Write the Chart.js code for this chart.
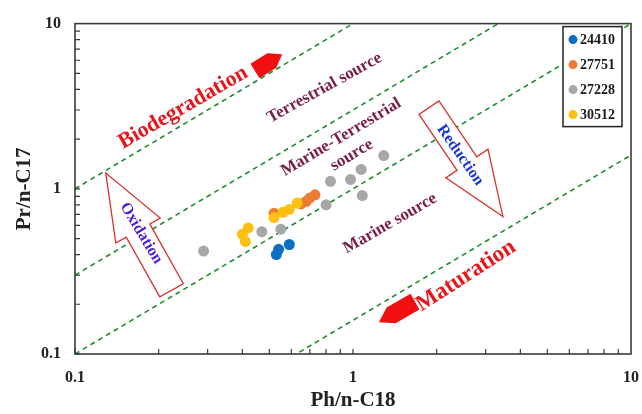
<!DOCTYPE html>
<html>
<head>
<meta charset="utf-8">
<script src="https://cdn.jsdelivr.net/npm/chart.js@4.4.1/dist/chart.umd.min.js"></script>
<style>
  html, body { margin: 0; padding: 0; background: #fff; }
</style>
</head>
<body>
<canvas id="chart" width="642" height="414"></canvas>
<script>
// sample series (Ph/n-C18 vs Pr/n-C17)
const seriesNames = ['24410', '27751', '27228', '30512'];
const seriesColors = ['#0b6fc3', '#ec7b33', '#a7a7a7', '#fdc010'];

const x24410 = [0.53, 0.54, 0.59];
const y24410 = [0.40, 0.43, 0.46];

const x27751 = [0.52, 0.65, 0.68, 0.70, 0.73];
const y27751 = [0.71, 0.81, 0.84, 0.88, 0.92];

const x27228 = [0.29, 0.47, 0.55, 0.80, 0.83, 0.98, 1.07, 1.08, 1.29];
const y27228 = [0.42, 0.55, 0.57, 0.80, 1.11, 1.14, 1.31, 0.91, 1.59];

const x30512 = [0.40, 0.41, 0.42, 0.52, 0.56, 0.59, 0.63];
const y30512 = [0.53, 0.48, 0.58, 0.67, 0.72, 0.75, 0.82];

// Pr/n-C17 = ratio * Ph/n-C18 boundary lines
const lineRatios = [10, 3, 1, 0.16];

const tickValues = [0.1, 1, 10];
const tickLabels = ['0.1', '1', '10'];

const serif = "'Liberation Serif', 'Times New Roman', serif";
const maroon = '#7a1e48';
const red = '#e5161c';

const notes = [
  { text: 'Biodegradation', x: 0.245, y: 3.1, size: 22, color: red, angle: -30 },
  { text: 'Terrestrial source', x: 0.79, y: 4.08, size: 17, color: maroon, angle: -29 },
  { text: 'Marine-Terrestrial', x: 0.906, y: 2.05, size: 17, color: maroon, angle: -31 },
  { text: 'source', x: 0.99, y: 1.6, size: 17, color: maroon, angle: -31 },
  { text: 'Marine source', x: 1.36, y: 0.617, size: 17, color: maroon, angle: -30 },
  { text: 'Maturation', x: 2.55, y: 0.297, size: 23, color: red, angle: -33 },
  { text: 'Reduction', x: 2.43, y: 1.6, size: 16, color: '#1d35d6', angle: 55 },
  { text: 'Oxidation', x: 0.173, y: 0.538, size: 16, color: '#4b1fd8', angle: 59 }
];

const arrows = [
  { from: [1.876, 3.10], to: [3.46, 0.68], shaft: 24, head: 51, headLen: 64, hollow: true },
  { from: [0.2225, 0.243], to: [0.129, 1.247], shaft: 27, head: 51, headLen: 66, hollow: true },
  { from: [0.444, 5.16], to: [0.556, 6.52], shaft: 17, head: 17, headLen: 12, hollow: false },
  { from: [1.671, 0.2076], to: [1.24, 0.1555], shaft: 18, head: 18, headLen: 14, hollow: false }
];

const scatterSets = [
  [x24410, y24410], [x27751, y27751], [x27228, y27228], [x30512, y30512]
].map((s, i) => ({
  type: 'scatter',
  label: seriesNames[i],
  data: s[0].map((v, j) => ({ x: v, y: s[1][j] })),
  backgroundColor: seriesColors[i],
  borderWidth: 0,
  pointRadius: 5.5,
  order: i === 3 ? 0 : 1
}));

const lineSets = lineRatios.map(r => ({
  type: 'line',
  label: 'ratio ' + r,
  data: [{ x: 0.1, y: 0.1 * r }, { x: 10, y: 10 * r }],
  borderColor: '#1f8c2b',
  borderWidth: 1.6,
  borderDash: [5, 4],
  pointRadius: 0,
  fill: false,
  order: 5
}));

const frame = {
  id: 'frame',
  afterDatasetsDraw(chart) {
    const { ctx, chartArea: a, scales } = chart;
    const px = (x, y) => [scales.x.getPixelForValue(x), scales.y.getPixelForValue(y)];
    ctx.save();

    // arrows
    arrows.forEach(ar => {
      const [x0, y0] = px(ar.from[0], ar.from[1]);
      const [x1, y1] = px(ar.to[0], ar.to[1]);
      const L = Math.hypot(x1 - x0, y1 - y0);
      const ang = Math.atan2(y1 - y0, x1 - x0);
      const s = ar.shaft / 2, h = ar.head / 2, H = ar.headLen;
      ctx.save();
      ctx.translate(x0, y0);
      ctx.rotate(ang);
      ctx.beginPath();
      ctx.moveTo(0, -s);
      ctx.lineTo(L - H, -s);
      ctx.lineTo(L - H, -h);
      ctx.lineTo(L, 0);
      ctx.lineTo(L - H, h);
      ctx.lineTo(L - H, s);
      ctx.lineTo(0, s);
      ctx.closePath();
      if (ar.hollow) {
        ctx.fillStyle = '#fff';
        ctx.fill();
        ctx.strokeStyle = '#d8322b';
        ctx.lineWidth = 1.3;
        ctx.stroke();
      } else {
        ctx.fillStyle = '#f20f0f';
        ctx.fill();
      }
      ctx.restore();
    });

    // text notes
    notes.forEach(n => {
      const [x, y] = px(n.x, n.y);
      ctx.save();
      ctx.translate(x, y);
      ctx.rotate(n.angle * Math.PI / 180);
      ctx.font = 'bold ' + n.size + 'px ' + serif;
      ctx.fillStyle = n.color;
      ctx.textAlign = 'center';
      ctx.textBaseline = 'middle';
      ctx.fillText(n.text, 0, 0);
      ctx.restore();
    });

    // plot frame
    ctx.strokeStyle = '#3a3a3a';
    ctx.lineWidth = 1.6;
    ctx.strokeRect(a.left, a.top, a.right - a.left, a.bottom - a.top);

    // inward minor/major ticks on left and bottom axes
    ctx.lineWidth = 1.2;
    ctx.beginPath();
    [0.1, 1].forEach(d => {
      for (let k = 1; k <= 9; k++) {
        const v = d * k;
        const xp = scales.x.getPixelForValue(v);
        ctx.moveTo(xp, a.bottom);
        ctx.lineTo(xp, a.bottom - 5);
        const yp = scales.y.getPixelForValue(v);
        ctx.moveTo(a.left, yp);
        ctx.lineTo(a.left + 5, yp);
      }
    });
    ctx.stroke();

    // legend box
    const bx = a.right - 68, by = a.top + 3, bw = 59, bh = 100;
    ctx.fillStyle = '#fff';
    ctx.fillRect(bx, by, bw, bh);
    ctx.strokeStyle = '#222';
    ctx.lineWidth = 1.5;
    ctx.strokeRect(bx, by, bw, bh);
    ctx.font = 'bold 14px ' + serif;
    ctx.textAlign = 'left';
    ctx.textBaseline = 'middle';
    scatterSets.forEach((ds, i) => {
      const yy = by + 13 + i * 25;
      ctx.beginPath();
      ctx.arc(bx + 10, yy, 4.5, 0, Math.PI * 2);
      ctx.fillStyle = ds.backgroundColor;
      ctx.fill();
      ctx.fillStyle = '#1a1a1a';
      ctx.fillText(ds.label, bx + 17, yy + 1);
    });
    ctx.restore();
  }
};

const axisFont = { family: serif, size: 16, weight: 'bold' };
const titleFont = { family: serif, size: 21, weight: 'bold' };

new Chart(document.getElementById('chart'), {
  data: { datasets: [...scatterSets, ...lineSets] },
  options: {
    responsive: false,
    animation: false,
    layout: { padding: { top: 20, right: 0, left: 0, bottom: 0 } },
    plugins: {
      legend: { display: false },
      tooltip: { enabled: false }
    },
    scales: {
      x: {
        type: 'logarithmic',
        min: 0.1,
        max: 10,
        afterBuildTicks: s => { s.ticks = tickValues.map(v => ({ value: v })); },
        afterFit: s => { s.height = 60; s.paddingRight = 11; },
        ticks: {
          callback: (v, i) => tickLabels[i],
          font: axisFont,
          color: '#222',
          padding: 14,
          maxRotation: 0,
          autoSkip: false
        },
        grid: { display: false, drawTicks: false },
        border: { display: false },
        title: { display: true, text: 'Ph/n-C18', font: titleFont, color: '#222', padding: { top: 0, bottom: 1 } }
      },
      y: {
        type: 'logarithmic',
        min: 0.1,
        max: 10,
        afterBuildTicks: s => { s.ticks = tickValues.map(v => ({ value: v })); },
        afterFit: s => { s.width = 75; },
        ticks: {
          callback: (v, i) => tickLabels[i],
          font: axisFont,
          color: '#222',
          padding: 14,
          autoSkip: false
        },
        grid: { display: false, drawTicks: false },
        border: { display: false },
        title: { display: true, text: 'Pr/n-C17', font: titleFont, color: '#222', padding: { top: 12, bottom: 0 } }
      }
    }
  },
  plugins: [frame]
});
</script>
</body>
</html>
